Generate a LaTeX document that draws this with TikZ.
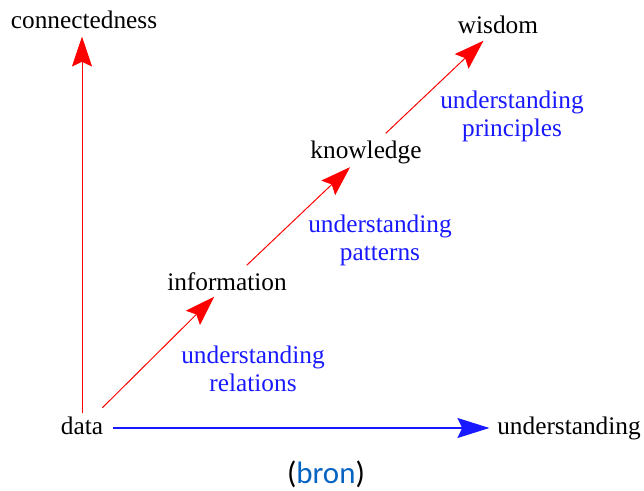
\documentclass[tikz,border=0pt]{standalone}
\usepackage{fontspec}
\setmainfont{Liberation Serif}
\newfontfamily\bronfont{Carlito}
\usepackage{xcolor}
\usepackage{tikz}
\usetikzlibrary{arrows.meta, positioning}
\definecolor{myred}{RGB}{255,0,0}
\definecolor{myblue}{RGB}{25,25,255}
\definecolor{mylink}{RGB}{5,99,193}
\tikzset{
  term/.style={font=\fontsize{18}{21}\selectfont, text=black,
    inner sep=2pt, text height=0.95em, text depth=0.05em},
  note/.style={font=\fontsize{18}{20}\selectfont, text=myblue,
    align=center, inner sep=0pt},
  redarrow/.style={-{Stealth[length=0.75cm, width=0.5cm, inset=0.12cm]},
    color=myred, line width=0.7pt},
  bluearrow/.style={-{Stealth[length=0.8cm, width=0.5cm, inset=0.12cm]},
    color=myblue, line width=0.8pt}
}

\begin{document}
\begin{tikzpicture}[x=0.025cm, y=-0.025cm]
  \useasboundingbox (0,0) rectangle (644,491);

  % Nodes
  \node[term] (data) at (82,428) {data};
  \node[term] (connectedness) at (84,22) {connectedness};
  \node[term] (understanding) at (569,428) {understanding};
  \node[term] (information) at (227,284) {information};
  \node[term] (knowledge) at (366,152) {knowledge};
  \node[term] (wisdom) at (498,27) {wisdom};

  % Labels
  \node[note] (relations) at (253,369) {understanding\\relations};
  \node[note] (patterns) at (380,240) {understanding\\patterns};
  \node[note] (principles) at (512,116) {understanding\\principles};
  \node[font=\bronfont\fontsize{22}{26}\selectfont, inner sep=0pt] (bron) at (326,474)
    {(\textcolor{mylink}{bron})};

  % Arrows
  \draw[redarrow, shorten <=0.11cm, shorten >=0.11cm] (data.north) -- (data.north |- connectedness.south);
  \draw[bluearrow, shorten <=0.17cm, shorten >=0.12cm] (data.east) -- (understanding.west);
  \draw[redarrow, shorten <=0.72cm, shorten >=0.45cm] (data.center) -- (information.center);
  \draw[redarrow, shorten <=0.68cm, shorten >=0.55cm] (information.center) -- (knowledge.center);
  \draw[redarrow, shorten <=0.68cm, shorten >=0.5cm] (knowledge.center) -- (wisdom.center);
\end{tikzpicture}
\end{document}
